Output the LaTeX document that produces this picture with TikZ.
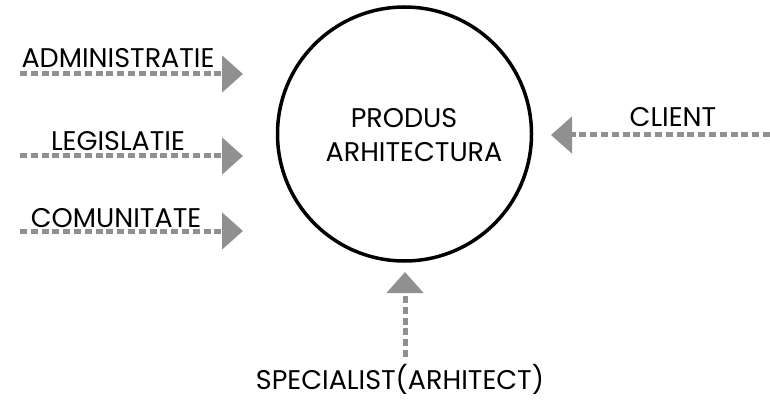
\documentclass[tikz,border=0pt]{standalone}
\usepackage{fontspec}
\setmainfont{Poppins}
\usetikzlibrary{arrows.meta}
\definecolor{arrgray}{HTML}{909090}
\tikzset{
  flow/.style={draw=arrgray, line width=5pt, dash pattern=on 7pt off 3.8pt,
    -{Triangle[length=21pt,width=36pt,fill=arrgray]}},
  lbl/.style={anchor=base, inner sep=0pt, font=\fontsize{27}{32}\selectfont},
}
\begin{document}
\begin{tikzpicture}[x=1pt,y=-1pt]
\useasboundingbox (0,0) rectangle (770,406);
\node[circle, draw=black, line width=3.5pt, minimum size=254pt, inner sep=0pt] (prod) at (404.5,134) {};
\node[lbl] (t1) at (404,128) {PRODUS};
\node[lbl] (t2) at (414,161) {ARHITECTURA};
% arrows
\coordinate (a0) at (20,74);  \coordinate (a1) at (243,74);
\coordinate (b0) at (20,156); \coordinate (b1) at (243,156);
\coordinate (c0) at (20,231); \coordinate (c1) at (243,231);
\coordinate (d0) at (770,135); \coordinate (d1) at (551,135);
\coordinate (e0) at (405,357); \coordinate (e1) at (405,272);
\draw[flow] (a0) -- (a1);
\draw[flow] (b0) -- (b1);
\draw[flow] (c0) -- (c1);
\draw[flow] (d0) -- (d1);
\draw[flow] (e0) -- (e1);
\node[lbl] (la) at (118,68) {ADMINISTRATIE};
\node[lbl] (lb) at (118,150) {LEGISLATIE};
\node[lbl] (lc) at (116,227) {COMUNITATE};
\node[lbl] (ld) at (673,127) {CLIENT};
\node[lbl] (le) at (400,389) {SPECIALIST(ARHITECT)};
\end{tikzpicture}
\end{document}
